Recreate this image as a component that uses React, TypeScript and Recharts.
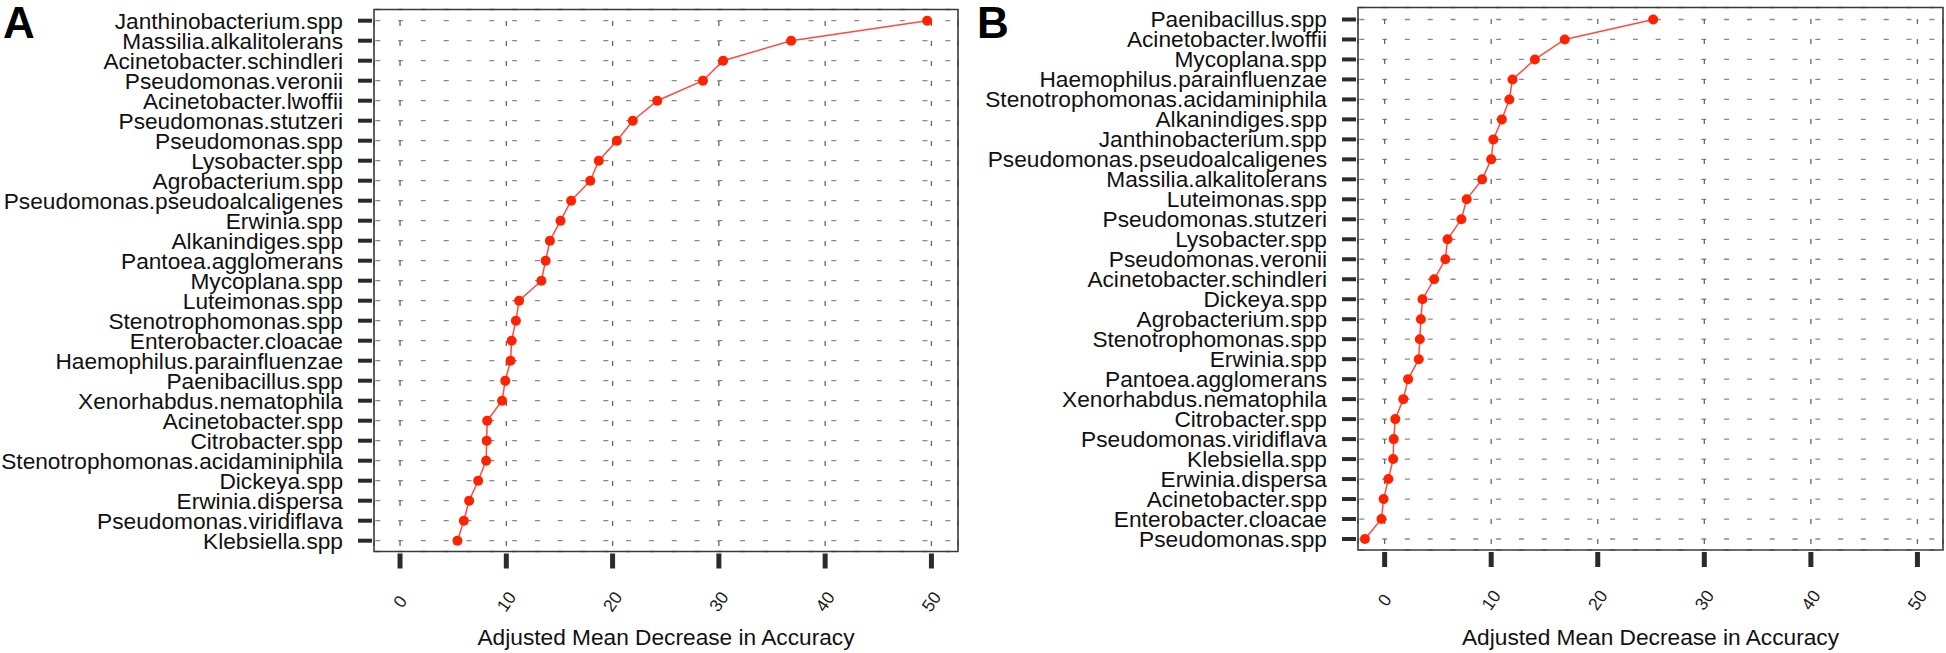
import { CartesianGrid, ReferenceArea, Scatter, ScatterChart, XAxis, YAxis } from "recharts"

const namesA = [
  "Janthinobacterium.spp",
  "Massilia.alkalitolerans",
  "Acinetobacter.schindleri",
  "Pseudomonas.veronii",
  "Acinetobacter.lwoffii",
  "Pseudomonas.stutzeri",
  "Pseudomonas.spp",
  "Lysobacter.spp",
  "Agrobacterium.spp",
  "Pseudomonas.pseudoalcaligenes",
  "Erwinia.spp",
  "Alkanindiges.spp",
  "Pantoea.agglomerans",
  "Mycoplana.spp",
  "Luteimonas.spp",
  "Stenotrophomonas.spp",
  "Enterobacter.cloacae",
  "Haemophilus.parainfluenzae",
  "Paenibacillus.spp",
  "Xenorhabdus.nematophila",
  "Acinetobacter.spp",
  "Citrobacter.spp",
  "Stenotrophomonas.acidaminiphila",
  "Dickeya.spp",
  "Erwinia.dispersa",
  "Pseudomonas.viridiflava",
  "Klebsiella.spp",
]
const valuesA = [
  49.6, 36.8, 30.4, 28.5, 24.2, 21.9, 20.4, 18.7, 17.9, 16.1, 15.1, 14.1, 13.7, 13.3,
  11.2, 10.9, 10.5, 10.4, 9.9, 9.6, 8.2, 8.15, 8.1, 7.35, 6.5, 6.0, 5.4,
]

const namesB = [
  "Paenibacillus.spp",
  "Acinetobacter.lwoffii",
  "Mycoplana.spp",
  "Haemophilus.parainfluenzae",
  "Stenotrophomonas.acidaminiphila",
  "Alkanindiges.spp",
  "Janthinobacterium.spp",
  "Pseudomonas.pseudoalcaligenes",
  "Massilia.alkalitolerans",
  "Luteimonas.spp",
  "Pseudomonas.stutzeri",
  "Lysobacter.spp",
  "Pseudomonas.veronii",
  "Acinetobacter.schindleri",
  "Dickeya.spp",
  "Agrobacterium.spp",
  "Stenotrophomonas.spp",
  "Erwinia.spp",
  "Pantoea.agglomerans",
  "Xenorhabdus.nematophila",
  "Citrobacter.spp",
  "Pseudomonas.viridiflava",
  "Klebsiella.spp",
  "Erwinia.dispersa",
  "Acinetobacter.spp",
  "Enterobacter.cloacae",
  "Pseudomonas.spp",
]
const valuesB = [
  25.2, 16.9, 14.1, 12.0, 11.7, 11.0, 10.2, 10.0, 9.15, 7.7, 7.2, 5.9, 5.7, 4.65,
  3.55, 3.4, 3.3, 3.2, 2.2, 1.75, 1.0, 0.85, 0.8, 0.35, -0.1, -0.3, -1.85,
]

const xTicks = [0, 10, 20, 30, 40, 50]
const xTitle = "Adjusted Mean Decrease in Accuracy"

const DOT_RED = "#ff2200"
const LINE_RED = "#ff4a40"
const FONT = "'Liberation Sans', Arial, Helvetica, sans-serif"

// bottom ticks: thick stub + rotated number
function XTickMark(props: any) {
  const { x, y, payload } = props
  const cy = y + 50
  return (
    <g>
      <line x1={x} x2={x} y1={y + 2} y2={y + 17} stroke="#2b2b2b" strokeWidth={5} />
      <text
        x={x}
        y={cy + 6}
        transform={`rotate(-55 ${x} ${cy})`}
        textAnchor="middle"
        fontSize={17.5}
        fill="#1a1a1a"
      >
        {payload.value}
      </text>
    </g>
  )
}

const makeYTick = (names: string[], plotLeft: number) => (props: any) => {
  const { y, payload } = props
  return (
    <g>
      <line x1={plotLeft - 16} x2={plotLeft - 2} y1={y} y2={y} stroke="#2b2b2b" strokeWidth={4} />
      <text x={plotLeft - 31} y={y + 8} textAnchor="end" fontSize={22.7} fill="#111">
        {names[payload.value - 1]}
      </text>
    </g>
  )
}

const hLine = (p: any) => (
  <line
    key={p.key}
    x1={p.x1}
    y1={p.y1}
    x2={p.x2}
    y2={p.y2}
    stroke="#8a8a8a"
    strokeWidth={1.3}
    strokeDasharray="5 17.8"
    strokeDashoffset={21.5}
  />
)

const vLine = (p: any) => (
  <line
    key={p.key}
    x1={p.x1}
    y1={p.y1}
    x2={p.x2}
    y2={p.y2}
    stroke="#666"
    strokeWidth={1.3}
    strokeDasharray="5 15"
    strokeDashoffset={8.6}
  />
)

interface PanelProps {
  names: string[]
  values: number[]
  width: number
  top: number
  right: number
  yWidth: number
  xHeight: number
  xDomain: [number, number]
  yDomain: [number, number]
}

function Panel({ names, values, width, top, right, yWidth, xHeight, xDomain, yDomain }: PanelProps) {
  const data = values.map((v, i) => ({ idx: i + 1, value: v }))
  const yTicks = names.map((_, i) => i + 1)

  return (
    <ScatterChart width={width} height={653} margin={{ top, right, bottom: 0, left: 0 }}>
      <CartesianGrid horizontal={hLine} vertical={vLine} />
      <XAxis
        type="number"
        dataKey="value"
        domain={xDomain}
        ticks={xTicks}
        allowDataOverflow
        interval={0}
        height={xHeight}
        axisLine={false}
        tickLine={false}
        tickSize={0}
        tickMargin={0}
        tick={<XTickMark />}
        label={{ value: xTitle, position: "insideBottom", offset: 8, fontSize: 22.7, fill: "#111" }}
      />
      <YAxis
        type="number"
        dataKey="idx"
        domain={yDomain}
        ticks={yTicks}
        allowDataOverflow
        reversed
        interval={0}
        width={yWidth}
        axisLine={false}
        tickLine={false}
        tickSize={0}
        tickMargin={0}
        tick={makeYTick(names, yWidth)}
      />
      <ReferenceArea
        x1={xDomain[0]}
        x2={xDomain[1]}
        y1={yDomain[0]}
        y2={yDomain[1]}
        fill="none"
        stroke="#3a3a3a"
        strokeWidth={1.6}
        ifOverflow="visible"
      />
      <Scatter
        data={data}
        line={{ stroke: LINE_RED, strokeWidth: 1.5 }}
        shape={(p: any) => <circle cx={p.cx} cy={p.cy} r={5} fill={DOT_RED} />}
        isAnimationActive={false}
      />
    </ScatterChart>
  )
}

export default function App() {
  return (
    <div
      style={{
        position: "absolute",
        left: 0,
        top: 0,
        width: 1946,
        height: 653,
        background: "#fff",
        fontFamily: FONT,
        overflow: "hidden",
      }}
    >
      <div style={{ position: "absolute", left: 0, top: 0 }}>
        <Panel
          names={namesA}
          values={valuesA}
          width={960}
          top={9.5}
          right={2}
          yWidth={374}
          xHeight={101.5}
          xDomain={[-2.45, 52.5]}
          yDomain={[0.44, 27.54]}
        />
      </div>
      <div style={{ position: "absolute", left: 970, top: 0 }}>
        <Panel
          names={namesB}
          values={valuesB}
          width={976}
          top={7.5}
          right={3}
          yWidth={388}
          xHeight={103}
          xDomain={[-2.5, 52.4]}
          yDomain={[0.4, 27.55]}
        />
      </div>
      <svg width={1946} height={653} style={{ position: "absolute", left: 0, top: 0, pointerEvents: "none" }}>
        <text x={3} y={38} fontSize={44} fontWeight="bold" fill="#000">A</text>
        <text x={977} y={38} fontSize={44} fontWeight="bold" fill="#000">B</text>
      </svg>
    </div>
  )
}
